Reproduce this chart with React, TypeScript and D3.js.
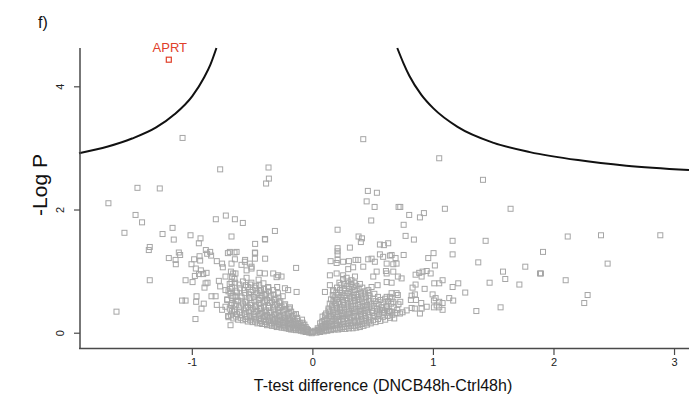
import React from "react";
import * as d3 from "d3";

// ---- data ----
const xTicks = [-1, 0, 1, 2, 3];
const yTicks = [0, 2, 4];

const highlight = [{ label: "APRT", x: -1.195, y: 4.44 }];

const curveLeft: [number, number][] = [
  [-1.94, 2.92], [-1.7, 3.03], [-1.5, 3.16], [-1.3, 3.34], [-1.15, 3.55], [-1.0, 3.85],
  [-0.9, 4.16], [-0.85, 4.36], [-0.8, 4.63],
];
const curveRight: [number, number][] = [
  [0.7, 4.63], [0.75, 4.39], [0.8, 4.18], [0.9, 3.87], [1.0, 3.65], [1.2, 3.35], [1.5, 3.09],
  [1.8, 2.94], [2.2, 2.81], [2.6, 2.72], [3.12, 2.65],
];

const leftOutliers: [number, number][] = [
  [-1.081, 3.17], [-0.769, 2.66], [-1.455, 2.36], [-1.27, 2.35], [-1.696, 2.11], [-1.471, 1.92],
  [-1.417, 1.8], [-0.805, 1.85], [-0.722, 1.91], [-0.647, 1.85], [-0.581, 1.79], [-1.563, 1.63],
  [-1.247, 1.61], [-1.164, 1.71], [-1.015, 1.59], [-0.932, 1.54], [-0.675, 1.57], [-1.154, 1.52],
  [-0.946, 1.46], [-1.353, 1.4], [-1.361, 1.35], [-1.195, 1.22], [-1.112, 1.31], [-1.101, 1.27],
  [-1.139, 1.19], [-1.137, 1.12], [-1.007, 1.12], [-0.985, 1.2], [-0.94, 1.25], [-0.935, 1.18],
  [-0.888, 1.35], [-0.852, 1.32], [-0.877, 1.29], [-0.844, 1.26], [-0.797, 1.17], [-0.753, 1.13],
  [-0.747, 1.07], [-0.705, 1.3], [-0.65, 1.31], [-0.647, 1.2], [-0.971, 1.05], [-0.944, 0.96],
  [-0.979, 0.93], [-0.929, 1.02], [-0.882, 0.98], [-0.91, 0.96], [-1.353, 0.86], [-1.056, 0.86],
  [-0.998, 0.83], [-0.89, 0.81], [-0.874, 0.82], [-0.899, 0.74], [-0.78, 0.85], [-0.769, 0.76],
  [-0.725, 0.92], [-0.68, 1.0], [-0.67, 0.92], [-0.642, 0.97], [-1.085, 0.53], [-1.056, 0.53],
  [-0.965, 0.6], [-0.968, 0.51], [-0.905, 0.48], [-0.924, 0.4], [-0.841, 0.6], [-0.807, 0.6],
  [-0.797, 0.46], [-1.629, 0.35], [-0.974, 0.23], [-0.683, 0.13],
  [-0.725, 0.7], [-0.683, 0.65], [-0.642, 0.59], [-0.711, 0.54], [-0.67, 0.49], [-0.753, 0.38],
  [-0.703, 0.28], [-0.655, 0.35], [-0.725, 0.43], [-0.675, 1.13], [-0.661, 0.97], [-0.675, 0.83],
  [-0.368, 2.69], [-0.365, 2.51], [-0.388, 2.43], [-0.315, 1.66], [-0.398, 1.53], [-0.479, 1.45],
  [-0.396, 1.52], [-0.479, 1.3], [-0.481, 1.21], [-0.396, 1.21], [-0.139, 1.06], [-0.562, 1.19],
  [-0.523, 1.13], [-0.509, 1.05], [-0.55, 1.02], [-0.592, 1.11], [-0.442, 0.98], [-0.398, 0.97],
  [-0.329, 0.97], [-0.288, 0.94], [-0.26, 0.92], [-0.301, 0.91], [-0.135, 0.67], [-0.205, 0.7],
  [-0.296, 0.75], [-0.371, 0.75], [-0.232, 0.73], [-0.689, 1.32], [-0.633, 1.32], [-0.564, 1.16],
  [-0.481, 1.31], [-0.509, 1.08],
];

const rightOutliers: [number, number][] = [
  [0.418, 3.15], [0.456, 2.31], [0.531, 2.28], [0.446, 2.14], [0.512, 2.05], [0.711, 2.05],
  [0.484, 1.83], [0.205, 1.68], [0.379, 1.57], [0.407, 1.54], [1.048, 2.84], [1.411, 2.49],
  [0.725, 2.05], [0.799, 1.92], [0.888, 1.88], [0.921, 1.95], [0.753, 1.76], [0.769, 1.58],
  [0.838, 1.52], [1.095, 2.02], [1.64, 2.02], [1.159, 1.5], [1.433, 1.5], [1.159, 1.28],
  [1.001, 1.3], [0.957, 1.22], [0.753, 1.27], [0.686, 1.22], [0.653, 1.27], [0.667, 1.12],
  [1.012, 1.1], [1.372, 1.15], [1.762, 1.08], [1.577, 1.0], [1.596, 0.88], [1.466, 0.82],
  [1.713, 0.79], [1.884, 0.97], [0.705, 0.92], [0.736, 0.89], [0.653, 0.82], [0.852, 0.95],
  [0.882, 0.98], [0.91, 1.0], [0.944, 1.01], [0.977, 0.97], [0.902, 0.92], [1.007, 0.81],
  [1.048, 0.81], [1.076, 0.86], [1.206, 0.81], [1.159, 0.75], [1.264, 0.66], [1.131, 0.57],
  [1.164, 0.53], [0.927, 0.72], [0.852, 0.79], [0.827, 0.74], [0.819, 0.61], [0.846, 0.63],
  [0.855, 0.54], [0.813, 0.54], [0.993, 0.63], [1.018, 0.57], [1.004, 0.53], [1.048, 0.51],
  [1.076, 0.49], [1.027, 0.45], [1.048, 0.42], [1.076, 0.38], [1.004, 0.42], [0.899, 0.49],
  [0.944, 0.43], [0.902, 0.4], [0.888, 0.32], [0.846, 0.4], [0.819, 0.41], [0.778, 0.37],
  [0.744, 0.34], [1.356, 0.36], [1.557, 0.42], [0.725, 0.51], [0.653, 0.56], [0.653, 0.65],
  [0.705, 0.62], [0.675, 0.24], [0.653, 0.35], [0.694, 0.33], [2.114, 1.57], [2.39, 1.59],
  [2.882, 1.59], [1.909, 1.32], [2.445, 1.13], [1.892, 0.97], [2.097, 0.86], [2.279, 0.62],
  [2.251, 0.49], [0.398, 1.48], [0.556, 1.44], [0.589, 1.43], [0.625, 1.46], [0.307, 1.39],
  [0.205, 1.33], [0.205, 1.28], [0.556, 1.28], [0.639, 1.26], [0.147, 1.17], [0.205, 1.19],
  [0.299, 1.17], [0.354, 1.19], [0.418, 1.08], [0.459, 1.2], [0.487, 1.21], [0.606, 1.01],
  [0.722, 0.32], [0.612, 0.43], [0.556, 0.37], [0.529, 0.32], [0.639, 0.59], [0.537, 0.78],
  [0.487, 0.75], [0.197, 1.14], [0.251, 1.16], [0.293, 1.04], [0.334, 1.07], [0.376, 1.19],
  [0.349, 0.92], [0.141, 0.94], [0.197, 0.97], [0.251, 0.94], [0.141, 0.78], [0.1, 0.67],
  [0.168, 0.7], [0.205, 1.38], [0.514, 1.16], [0.583, 1.24], [0.612, 1.13], [0.694, 1.13],
  [0.667, 1.0], [0.612, 0.97], [0.529, 1.0], [0.501, 0.92], [0.612, 0.83], [0.694, 0.65],
  [0.612, 0.59], [0.667, 0.51], [0.529, 0.48], [0.583, 0.37], [0.639, 0.35],
];

const coreLeft: [number, number][] = [
  [-0.7, 0.26], [-0.69, 0.4], [-0.71, 0.55], [-0.7, 0.68], [-0.69, 0.8],
  [-0.66, 0.24], [-0.67, 0.36], [-0.65, 0.47], [-0.66, 0.61], [-0.67, 0.74], [-0.65, 0.88],
  [-0.62, 0.22], [-0.63, 0.31], [-0.61, 0.42], [-0.62, 0.53], [-0.63, 0.66], [-0.61, 0.79],
  [-0.58, 0.21], [-0.59, 0.29], [-0.57, 0.37], [-0.58, 0.48], [-0.59, 0.58], [-0.57, 0.7], [-0.58, 0.84],
  [-0.54, 0.19], [-0.55, 0.26], [-0.53, 0.34], [-0.54, 0.43], [-0.55, 0.53], [-0.53, 0.63], [-0.54, 0.75], [-0.55, 0.9],
  [-0.5, 0.18], [-0.51, 0.24], [-0.49, 0.31], [-0.5, 0.4], [-0.51, 0.49], [-0.49, 0.59], [-0.5, 0.7], [-0.51, 0.82],
  [-0.46, 0.16], [-0.47, 0.22], [-0.45, 0.29], [-0.46, 0.36], [-0.47, 0.45], [-0.45, 0.54], [-0.46, 0.65], [-0.47, 0.77], [-0.45, 0.87],
  [-0.42, 0.15], [-0.43, 0.2], [-0.41, 0.26], [-0.42, 0.33], [-0.43, 0.41], [-0.41, 0.5], [-0.42, 0.6], [-0.43, 0.7], [-0.41, 0.81],
  [-0.38, 0.13], [-0.39, 0.18], [-0.37, 0.24], [-0.38, 0.3], [-0.39, 0.37], [-0.37, 0.45], [-0.38, 0.54], [-0.39, 0.64], [-0.37, 0.74],
  [-0.34, 0.12], [-0.35, 0.16], [-0.33, 0.21], [-0.34, 0.27], [-0.35, 0.34], [-0.33, 0.42], [-0.34, 0.51], [-0.35, 0.61], [-0.33, 0.7],
  [-0.3, 0.1], [-0.31, 0.14], [-0.29, 0.19], [-0.3, 0.25], [-0.31, 0.31], [-0.29, 0.38], [-0.3, 0.47], [-0.31, 0.56], [-0.29, 0.65],
  [-0.26, 0.09], [-0.27, 0.13], [-0.25, 0.17], [-0.26, 0.22], [-0.27, 0.28], [-0.25, 0.35], [-0.26, 0.43], [-0.27, 0.52], [-0.25, 0.6],
  [-0.22, 0.08], [-0.23, 0.11], [-0.21, 0.15], [-0.22, 0.2], [-0.23, 0.25], [-0.21, 0.31], [-0.22, 0.39], [-0.23, 0.47],
  [-0.18, 0.06], [-0.19, 0.09], [-0.17, 0.13], [-0.18, 0.17], [-0.19, 0.22], [-0.17, 0.28], [-0.18, 0.35], [-0.19, 0.42],
  [-0.14, 0.05], [-0.15, 0.08], [-0.13, 0.11], [-0.14, 0.15], [-0.15, 0.19], [-0.13, 0.25], [-0.14, 0.31],
  [-0.1, 0.04], [-0.11, 0.06], [-0.09, 0.09], [-0.1, 0.12], [-0.11, 0.17], [-0.09, 0.22],
  [-0.06, 0.02], [-0.07, 0.04], [-0.05, 0.07], [-0.06, 0.1], [-0.07, 0.14],
  [-0.03, 0.01], [-0.02, 0.03], [-0.04, 0.05], [-0.01, 0.0], [0.0, 0.02],
];

const coreLeftFill: [number, number][] = [
  [-0.68, 0.3], [-0.68, 0.46], [-0.675, 0.6], [-0.685, 0.72],
  [-0.64, 0.27], [-0.645, 0.38], [-0.635, 0.52], [-0.64, 0.69], [-0.645, 0.82],
  [-0.6, 0.25], [-0.605, 0.34], [-0.595, 0.45], [-0.6, 0.6], [-0.605, 0.73],
  [-0.56, 0.23], [-0.565, 0.31], [-0.555, 0.41], [-0.56, 0.51], [-0.565, 0.65], [-0.555, 0.78],
  [-0.52, 0.21], [-0.525, 0.28], [-0.515, 0.37], [-0.52, 0.46], [-0.525, 0.57], [-0.515, 0.67], [-0.52, 0.79],
  [-0.48, 0.19], [-0.485, 0.27], [-0.475, 0.34], [-0.48, 0.43], [-0.485, 0.53], [-0.475, 0.63], [-0.48, 0.74],
  [-0.44, 0.17], [-0.445, 0.24], [-0.435, 0.31], [-0.44, 0.39], [-0.445, 0.48], [-0.435, 0.57], [-0.44, 0.68], [-0.445, 0.78],
  [-0.4, 0.15], [-0.405, 0.22], [-0.395, 0.28], [-0.4, 0.35], [-0.405, 0.43], [-0.395, 0.52], [-0.4, 0.62], [-0.405, 0.72],
  [-0.36, 0.14], [-0.365, 0.2], [-0.355, 0.26], [-0.36, 0.33], [-0.365, 0.41], [-0.355, 0.49], [-0.36, 0.58], [-0.365, 0.68],
  [-0.32, 0.12], [-0.325, 0.17], [-0.315, 0.23], [-0.32, 0.3], [-0.325, 0.37], [-0.315, 0.45], [-0.32, 0.54], [-0.325, 0.63],
  [-0.28, 0.11], [-0.285, 0.15], [-0.275, 0.21], [-0.28, 0.27], [-0.285, 0.34], [-0.275, 0.41], [-0.28, 0.5], [-0.285, 0.58],
  [-0.24, 0.09], [-0.245, 0.13], [-0.235, 0.18], [-0.24, 0.24], [-0.245, 0.3], [-0.235, 0.37], [-0.24, 0.45],
  [-0.2, 0.07], [-0.205, 0.11], [-0.195, 0.16], [-0.2, 0.21], [-0.205, 0.27], [-0.195, 0.33], [-0.2, 0.4],
  [-0.16, 0.06], [-0.165, 0.09], [-0.155, 0.13], [-0.16, 0.18], [-0.165, 0.24], [-0.155, 0.3],
  [-0.12, 0.05], [-0.125, 0.08], [-0.115, 0.11], [-0.12, 0.15], [-0.125, 0.2],
  [-0.08, 0.03], [-0.085, 0.06], [-0.075, 0.09], [-0.08, 0.13], [-0.085, 0.17],
  [-0.045, 0.02], [-0.05, 0.04],
];

const coreRight: [number, number][] = [
  [0.03, 0.01], [0.02, 0.04], [0.04, 0.08],
  [0.06, 0.02], [0.05, 0.06], [0.07, 0.11], [0.06, 0.16],
  [0.09, 0.03], [0.08, 0.08], [0.1, 0.14], [0.09, 0.2], [0.08, 0.27],
  [0.12, 0.04], [0.11, 0.1], [0.13, 0.17], [0.12, 0.24], [0.11, 0.32], [0.13, 0.4],
  [0.15, 0.05], [0.14, 0.11], [0.16, 0.19], [0.15, 0.27], [0.14, 0.35], [0.16, 0.45], [0.15, 0.55],
  [0.18, 0.06], [0.17, 0.12], [0.19, 0.2], [0.18, 0.29], [0.17, 0.38], [0.19, 0.48], [0.18, 0.58], [0.17, 0.68],
  [0.21, 0.06], [0.2, 0.13], [0.22, 0.22], [0.21, 0.31], [0.2, 0.41], [0.22, 0.51], [0.21, 0.62], [0.2, 0.74],
  [0.24, 0.07], [0.23, 0.14], [0.25, 0.23], [0.24, 0.33], [0.23, 0.43], [0.25, 0.54], [0.24, 0.65], [0.23, 0.78], [0.25, 0.88],
  [0.27, 0.07], [0.26, 0.15], [0.28, 0.25], [0.27, 0.35], [0.26, 0.46], [0.28, 0.57], [0.27, 0.69], [0.26, 0.8],
  [0.3, 0.08], [0.29, 0.16], [0.31, 0.26], [0.3, 0.37], [0.29, 0.48], [0.31, 0.6], [0.3, 0.72], [0.29, 0.84],
  [0.33, 0.08], [0.32, 0.17], [0.34, 0.28], [0.33, 0.39], [0.32, 0.5], [0.34, 0.62], [0.33, 0.75], [0.32, 0.86],
  [0.36, 0.09], [0.35, 0.18], [0.37, 0.29], [0.36, 0.4], [0.35, 0.52], [0.37, 0.64], [0.36, 0.77],
  [0.39, 0.1], [0.38, 0.2], [0.4, 0.31], [0.39, 0.42], [0.38, 0.54], [0.4, 0.66], [0.39, 0.8],
  [0.42, 0.12], [0.41, 0.22], [0.43, 0.33], [0.42, 0.44], [0.41, 0.56], [0.43, 0.68],
  [0.45, 0.14], [0.44, 0.24], [0.46, 0.35], [0.45, 0.46], [0.44, 0.58], [0.46, 0.7],
  [0.48, 0.16], [0.47, 0.26], [0.49, 0.37], [0.48, 0.48], [0.47, 0.6],
  [0.52, 0.18], [0.51, 0.28], [0.53, 0.4], [0.52, 0.52], [0.51, 0.64],
  [0.56, 0.2], [0.55, 0.3], [0.57, 0.42], [0.56, 0.54],
  [0.6, 0.22], [0.59, 0.33], [0.61, 0.45], [0.6, 0.56],
  [0.64, 0.25], [0.63, 0.36], [0.65, 0.48],
];

const coreRightFill: [number, number][] = [
  [0.045, 0.03], [0.04, 0.05],
  [0.075, 0.04], [0.07, 0.07], [0.08, 0.12], [0.075, 0.18],
  [0.105, 0.05], [0.1, 0.09], [0.11, 0.15], [0.105, 0.22], [0.1, 0.29],
  [0.135, 0.06], [0.13, 0.12], [0.14, 0.2], [0.135, 0.28], [0.13, 0.37], [0.14, 0.48],
  [0.165, 0.07], [0.16, 0.14], [0.17, 0.23], [0.165, 0.32], [0.16, 0.42], [0.17, 0.52], [0.165, 0.62],
  [0.195, 0.08], [0.19, 0.16], [0.2, 0.26], [0.195, 0.35], [0.19, 0.45], [0.2, 0.55], [0.195, 0.66],
  [0.225, 0.09], [0.22, 0.18], [0.23, 0.28], [0.225, 0.38], [0.22, 0.48], [0.23, 0.59], [0.225, 0.7], [0.22, 0.82],
  [0.255, 0.1], [0.25, 0.19], [0.26, 0.29], [0.255, 0.4], [0.25, 0.5], [0.26, 0.61], [0.255, 0.73],
  [0.285, 0.11], [0.28, 0.2], [0.29, 0.31], [0.285, 0.42], [0.28, 0.53], [0.29, 0.65], [0.285, 0.77], [0.28, 0.9],
  [0.315, 0.12], [0.31, 0.21], [0.32, 0.33], [0.315, 0.44], [0.31, 0.55], [0.32, 0.67], [0.315, 0.8],
  [0.345, 0.12], [0.34, 0.22], [0.35, 0.34], [0.345, 0.45], [0.34, 0.57], [0.35, 0.7], [0.345, 0.82],
  [0.375, 0.13], [0.37, 0.24], [0.38, 0.36], [0.375, 0.47], [0.37, 0.59], [0.38, 0.72],
  [0.405, 0.15], [0.4, 0.26], [0.41, 0.38], [0.405, 0.5], [0.4, 0.61], [0.41, 0.74],
  [0.435, 0.17], [0.43, 0.28], [0.44, 0.4], [0.435, 0.51], [0.43, 0.63],
  [0.465, 0.19], [0.46, 0.3], [0.47, 0.42], [0.465, 0.53], [0.46, 0.65],
  [0.5, 0.21], [0.495, 0.33], [0.505, 0.44], [0.5, 0.56],
  [0.54, 0.23], [0.535, 0.35], [0.545, 0.47], [0.54, 0.59],
  [0.58, 0.26], [0.575, 0.38], [0.585, 0.5],
  [0.62, 0.28], [0.615, 0.4], [0.625, 0.52],
  [0.66, 0.3], [0.67, 0.42], [0.7, 0.38], [0.71, 0.47],
];

const W = 689;
const H = 407;
const FONT = "Liberation Sans, Arial, sans-serif";

export default function App() {
  const x = d3.scaleLinear().domain([-1.94, 3.12]).range([79, 689]);
  const y = d3.scaleLinear().domain([-0.24, 4.63]).range([348, 48]);
  const line = d3
    .line<[number, number]>()
    .x((d) => x(d[0]))
    .y((d) => y(d[1]))
    .curve(d3.curveMonotoneX);
  const pts = [
    ...coreLeft,
    ...coreLeftFill,
    ...coreRight,
    ...coreRightFill,
    ...leftOutliers,
    ...rightOutliers,
  ];
  const s = 5;
  const axisColor = "#4a4a4a";
  return (
    <svg
      width={W}
      height={H}
      style={{ position: "absolute", left: 0, top: 0, background: "#fff" }}
    >
      <rect width={W} height={H} fill="#fff" />
      <text x={38} y={28} fontFamily={FONT} fontSize={16} fill="#111">
        f)
      </text>
      <g>
        {pts.map((d, i) => (
          <rect
            key={i}
            x={x(d[0]) - s / 2}
            y={y(d[1]) - s / 2}
            width={s}
            height={s}
            fill="none"
            stroke="#a6a6a6"
            strokeWidth={1}
          />
        ))}
      </g>
      <path d={line(curveLeft) || ""} fill="none" stroke="#111" strokeWidth={2} />
      <path d={line(curveRight) || ""} fill="none" stroke="#111" strokeWidth={2} />
      {highlight.map((h) => (
        <g key={h.label}>
          <rect
            x={x(h.x) - s / 2}
            y={y(h.y) - s / 2}
            width={s}
            height={s}
            fill="none"
            stroke="#e0402a"
            strokeWidth={1.2}
          />
          <text
            x={x(h.x) + 1}
            y={y(h.y) - 8}
            textAnchor="middle"
            fontFamily={FONT}
            fontSize={13}
            fill="#e0402a"
          >
            {h.label}
          </text>
        </g>
      ))}
      {/* axes */}
      <line x1={80} x2={80} y1={48} y2={349} stroke={axisColor} strokeWidth={1.5} />
      <line x1={79} x2={689} y1={348.5} y2={348.5} stroke={axisColor} strokeWidth={1.5} />
      {yTicks.map((t) => (
        <g key={t}>
          <line x1={74} x2={80} y1={y(t)} y2={y(t)} stroke={axisColor} strokeWidth={1.2} />
          <text
            transform={`translate(64,${y(t)}) rotate(-90)`}
            textAnchor="middle"
            fontFamily={FONT}
            fontSize={11}
            fill="#222"
          >
            {t}
          </text>
        </g>
      ))}
      {xTicks.map((t) => (
        <g key={t}>
          <line x1={x(t)} x2={x(t)} y1={348} y2={355} stroke={axisColor} strokeWidth={1.2} />
          <text
            x={x(t)}
            y={366}
            textAnchor="middle"
            fontFamily={FONT}
            fontSize={11}
            fill="#222"
          >
            {t < 0 ? `-${Math.abs(t)}` : t}
          </text>
        </g>
      ))}
      <text
        transform={`translate(47,${185}) rotate(-90)`}
        textAnchor="middle"
        fontFamily={FONT}
        fontSize={21}
        fill="#111"
      >
        -Log P
      </text>
      <text
        x={383}
        y={391}
        textAnchor="middle"
        fontFamily={FONT}
        fontSize={16}
        fill="#111"
      >
        T-test difference (DNCB48h-Ctrl48h)
      </text>
    </svg>
  );
}
